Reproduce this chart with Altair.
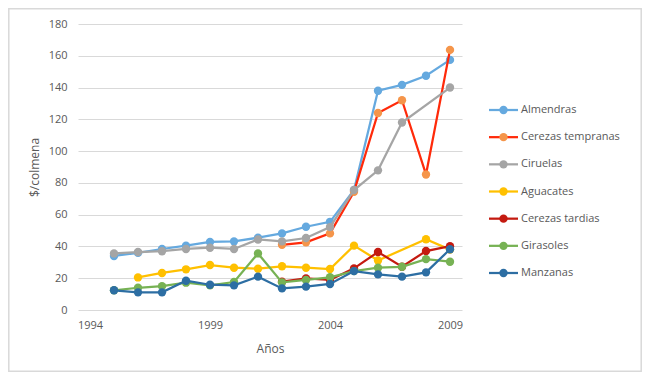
import altair as alt
import pandas as pd

years = list(range(1995, 2010))
series_names = ["Almendras", "Cerezas tempranas", "Ciruelas", "Aguacates",
                "Cerezas tardias", "Girasoles", "Manzanas"]
almendras = [34, 36, 38.4, 40.5, 42.8, 43.2, 45.5, 48.2, 52.4, 55.5, 75.5, 138, 141.7, 147.4, 157.4]
cerezas_tempranas = [None] * 7 + [41, 42.6, 48.2, 74.4, 124, 132, 85.3, 163.7]
ciruelas = [35.6, 36.5, 37, 38.4, 39.2, 38.4, 44.4, 43.2, 45.3, 52.2, 75.5, 87.9, 118, None, 140]
aguacates = [None, 20.5, 23.3, 25.6, 28.3, 26.6, 26, 27.5, 26.6, 25.8, 40.5, 31.2, None, 44.5, 38]
cerezas_tardias = [None] * 7 + [17.8, 19.9, 18.9, 26.2, 36.5, 27.2, 37.1, 40.2]
girasoles = [12.4, 14, 15, 17.2, 15.5, 17.6, 35.6, 17.4, 18.9, 20.6, 24.5, 26.6, 27.2, 32, 30.4]
manzanas = [12.4, 11.1, 11.1, 18.4, 15.9, 15.5, 21, 13.6, 14.7, 16.4, 24.5, 22.4, 21, 23.7, 38.2]

line_colors = ["#65A9DF", "#FF2A0A", "#A5A5A5", "#FFC000", "#C41A10", "#77B254", "#2D6EA3"]
marker_colors = ["#65A9DF", "#F5954A", "#A5A5A5", "#FFC000", "#C41A10", "#77B254", "#2D6EA3"]
x_tick_values = [1994, 1999, 2004, 2009]

values = [almendras, cerezas_tempranas, ciruelas, aguacates, cerezas_tardias, girasoles, manzanas]
rows = []
for name, vals in zip(series_names, values):
    for yr, v in zip(years, vals):
        if v is not None:
            rows.append({"serie": name, "year": yr, "value": v})
df = pd.DataFrame(rows)

TXT = "#595959"
x_enc = alt.X("year:Q", scale=alt.Scale(domain=[1993.5, 2009.5], nice=False, zero=False),
              axis=alt.Axis(values=x_tick_values, format="d", grid=False, domain=False, ticks=False,
                            labelColor=TXT, labelFontSize=11, labelPadding=9,
                            title="Años", titleColor=TXT, titleFontSize=12, titleFontWeight="normal",
                            titleY=38, titleBaseline="middle"))
y_enc = alt.Y("value:Q", scale=alt.Scale(domain=[0, 180], nice=False),
              axis=alt.Axis(values=list(range(0, 181, 20)), grid=True, gridColor="#D9D9D9",
                            domain=False, ticks=False, labelColor=TXT, labelFontSize=11,
                            labelPadding=11, title="$/colmena", titleColor=TXT, titleFontSize=12,
                            titleFontWeight="normal", titleX=-44, titleY=143,
                            titleAlign="center", titleBaseline="middle"))

base = alt.Chart(df)
layers = []
for i, name in enumerate(series_names):
    sub = base.transform_filter(alt.datum.serie == name)
    layers.append(sub.mark_line(strokeWidth=2.25, color=line_colors[i]).encode(x=x_enc, y=y_enc))
    layers.append(sub.mark_circle(size=70, opacity=1, color=marker_colors[i]).encode(x=x_enc, y=y_enc))

main = alt.layer(*layers)

leg_df = pd.DataFrame({"serie": series_names, "lc": line_colors, "mc": marker_colors})
leg_y = alt.Y("serie:N", sort=series_names, scale=alt.Scale(type="point", range=[86, 249], padding=0), axis=None)
leg = alt.Chart(leg_df)
leg_line = leg.mark_rule(strokeWidth=2.25).encode(
    x=alt.value(411), x2=alt.value(440), y=leg_y, color=alt.Color("lc:N", scale=None))
leg_pt = leg.mark_circle(size=70, opacity=1).encode(
    x=alt.value(425.5), y=leg_y, color=alt.Color("mc:N", scale=None))
leg_txt = leg.mark_text(align="left", baseline="middle", fontSize=11, color=TXT, dx=0).encode(
    x=alt.value(443), y=leg_y, text="serie:N")
legend = alt.layer(leg_line, leg_pt, leg_txt)

frame = alt.Chart(pd.DataFrame({"a": [0]})).mark_rect(
    fillOpacity=0, stroke="#D9D9D9", strokeWidth=1.5).encode(
    x=alt.value(-69.2), x2=alt.value(563.2), y=alt.value(-15.2), y2=alt.value(347.2))

chart = alt.layer(frame, main, legend).resolve_scale(y="independent").properties(
    width=384, height=286,
    autosize=alt.AutoSizeParams(type="none"),
    padding={"left": 70, "top": 16, "right": 180, "bottom": 62},
).configure(font="Open Sans").configure_view(stroke=None)

chart.save("out.html", embed_options={"renderer": "svg", "actions": False})
